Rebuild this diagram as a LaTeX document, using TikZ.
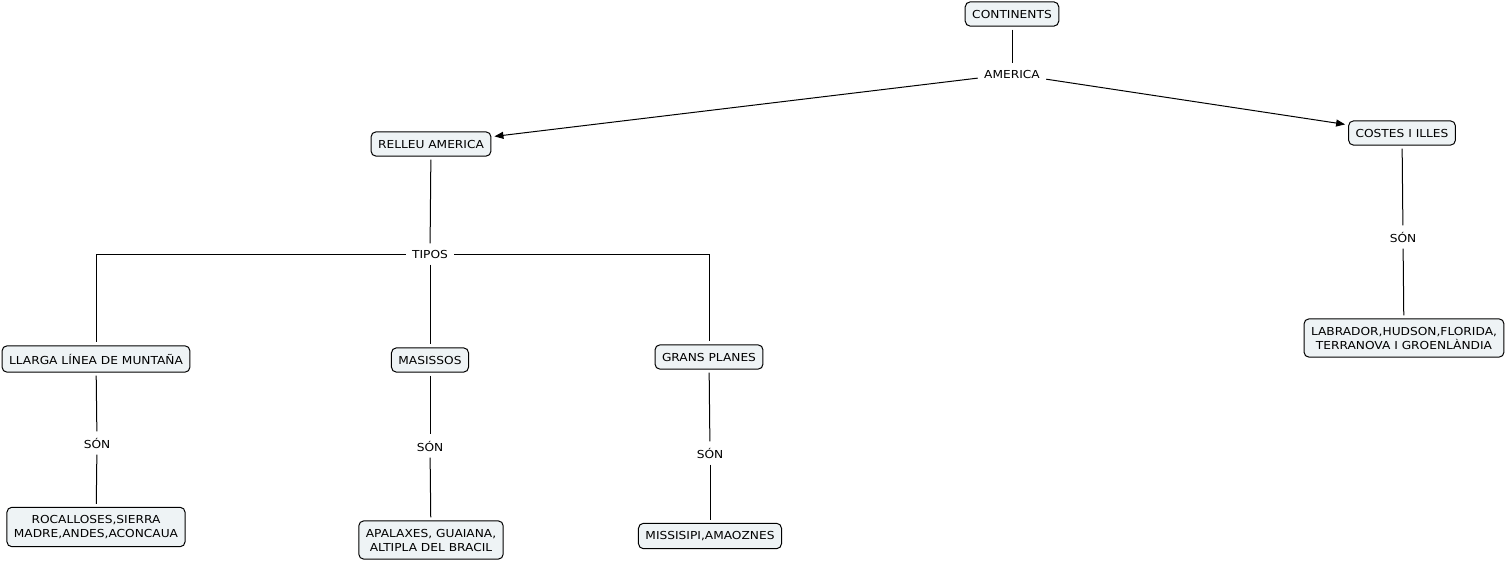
\documentclass[tikz,border=0pt]{standalone}
\usepackage{fontspec}
\setmainfont[FakeStretch=1.11]{DejaVu Sans}
\usetikzlibrary{arrows.meta}
\definecolor{conceptFill}{HTML}{EEF3F5}

\begin{document}
\begin{tikzpicture}[x=1pt, y=-1pt, line width=1pt, every node/.style={font=\fontsize{11}{14}\selectfont},
    concept/.style={draw, rounded corners=5pt, fill=conceptFill, inner xsep=7pt, inner ysep=8pt, align=center},
    linkword/.style={inner sep=3pt},
    link/.style={shorten >=3pt, shorten <=3pt},
    arrow/.style={link, -{Triangle[length=9pt,width=7pt]}}]
    \useasboundingbox (0,0) rectangle (1508,562);
    % concepts
    \node[concept] (continents) at (1012,14) {CONTINENTS};
    \node[concept] (relleu) at (431,144) {RELLEU AMERICA};
    \node[concept] (costes) at (1402,133) {COSTES I ILLES};
    \node[concept] (llarga) at (96,359) {LLARGA LÍNEA DE MUNTAÑA};
    \node[concept] (masissos) at (430,360) {MASISSOS};
    \node[concept] (grans) at (709,357) {GRANS PLANES};
    \node[concept] (rocalloses) at (96,527) {ROCALLOSES,SIERRA\\MADRE,ANDES,ACONCAUA};
    \node[concept] (apalaxes) at (431,540) {APALAXES, GUAIANA,\\ALTIPLA DEL BRACIL};
    \node[concept] (missisipi) at (710,536) {MISSISIPI,AMAOZNES};
    \node[concept] (labrador) at (1404,338) {LABRADOR,HUDSON,FLORIDA,\\TERRANOVA I GROENLÀNDIA};
    % linking words
    \node[linkword] (america) at (1012,74) {AMERICA};
    \node[linkword] (tipos) at (430,254) {TIPOS};
    \node[linkword] (son1) at (97,443) {SÓN};
    \node[linkword] (son2) at (430,446) {SÓN};
    \node[linkword] (son3) at (710,453) {SÓN};
    \node[linkword] (son4) at (1403,237) {SÓN};
    % connectors
    \draw[link] (continents) -- (america);
    \draw[arrow] (america) -- (relleu);
    \draw[arrow] (america) -- (costes);
    \draw[link] (relleu) -- (tipos);
    \draw[link] (tipos.west) -| (llarga.north);
    \draw[link] (tipos) -- (masissos);
    \draw[link] (tipos.east) -| (grans.north);
    \draw[link] (llarga) -- (son1);
    \draw[link] (son1) -- (rocalloses);
    \draw[link] (masissos) -- (son2);
    \draw[link] (son2) -- (apalaxes);
    \draw[link] (grans) -- (son3);
    \draw[link] (son3) -- (missisipi);
    \draw[link] (costes) -- (son4);
    \draw[link] (son4) -- (labrador);
\end{tikzpicture}
\end{document}
